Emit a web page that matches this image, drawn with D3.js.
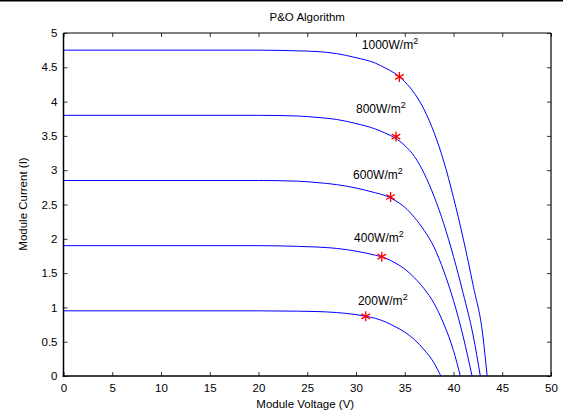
<!DOCTYPE html>
<html>
<head>
<meta charset="utf-8">
<script src="https://cdn.jsdelivr.net/npm/d3@7"></script>
<style>
  html, body { margin: 0; padding: 0; background: #fff; }
  svg { display: block; font-family: "Liberation Sans", Arial, sans-serif; }
</style>
</head>
<body>
<svg id="chart" width="563" height="414"></svg>
<script>
// ---------- data ----------
const irradianceLabels = ["1000W/m", "800W/m", "600W/m", "400W/m", "200W/m"];

const v1000 = [0, 10, 20, 24, 26, 28, 30, 32, 33, 34, 35, 36, 37, 38, 39, 40, 41, 42, 43, 43.45];
const i1000 = [4.75, 4.75, 4.75, 4.74, 4.73, 4.70, 4.64, 4.56, 4.49, 4.41, 4.29, 4.12, 3.88, 3.55, 3.13, 2.60, 2.00, 1.33, 0.60, 0];

const v800 = [0, 10, 20, 24, 26, 28, 30, 32, 33, 34, 35, 36, 37, 38, 39, 40, 41, 42, 42.75];
const i800 = [3.8, 3.8, 3.8, 3.79, 3.77, 3.74, 3.68, 3.60, 3.54, 3.47, 3.36, 3.20, 2.95, 2.62, 2.22, 1.74, 1.20, 0.60, 0];

const v600 = [0, 10, 20, 24, 26, 28, 30, 32, 33, 34, 35, 36, 37, 38, 39, 40, 41, 41.9];
const i600 = [2.85, 2.85, 2.85, 2.84, 2.82, 2.79, 2.74, 2.67, 2.63, 2.56, 2.46, 2.31, 2.12, 1.88, 1.53, 1.10, 0.57, 0];

const v400 = [0, 10, 20, 24, 26, 28, 30, 32, 33, 34, 35, 36, 37, 38, 39, 40, 40.7];
const i400 = [1.9, 1.9, 1.9, 1.89, 1.88, 1.86, 1.82, 1.76, 1.72, 1.65, 1.56, 1.43, 1.27, 1.06, 0.76, 0.37, 0];

const v200 = [0, 10, 20, 24, 26, 28, 30, 31, 32, 33, 34, 35, 36, 37, 38, 38.7];
const i200 = [0.95, 0.95, 0.95, 0.945, 0.94, 0.925, 0.895, 0.87, 0.84, 0.79, 0.72, 0.64, 0.53, 0.38, 0.19, 0];

// maximum power points found by P&O
const mppV = [34.45, 34.1, 33.55, 32.65, 31.0];
const mppI = [4.36, 3.49, 2.61, 1.74, 0.87];

// label anchor positions (data coords)
const labelV = [30.6, 30.0, 29.7, 29.8, 30.2];
const labelI = [4.76, 3.83, 2.87, 1.96, 1.03];

const xTicks = [0, 5, 10, 15, 20, 25, 30, 35, 40, 45, 50];
const yTicks = [0, 0.5, 1, 1.5, 2, 2.5, 3, 3.5, 4, 4.5, 5];

// ---------- layout ----------
const svg = d3.select("#chart");
const L = 63.5, R = 551, T = 33, B = 376;
const x = d3.scaleLinear().domain([0, 50]).range([L, R]);
const y = d3.scaleLinear().domain([0, 5]).range([B, T]);

// top border of the figure
svg.append("line").attr("x1", 0).attr("x2", 563).attr("y1", 0.75).attr("y2", 0.75)
  .attr("stroke", "#000").attr("stroke-width", 1.5);

// axes with inward ticks
const fmt = d => String(d);
const gx = svg.append("g").attr("transform", `translate(0,${B})`)
  .call(d3.axisBottom(x).tickValues(xTicks).tickSize(-4).tickPadding(8).tickFormat(fmt));
const gxt = svg.append("g").attr("transform", `translate(0,${T})`)
  .call(d3.axisTop(x).tickValues(xTicks).tickSize(-4).tickFormat(""));
const gy = svg.append("g").attr("transform", `translate(${L},0)`)
  .call(d3.axisLeft(y).tickValues(yTicks).tickSize(-4).tickPadding(6).tickFormat(fmt));
const gyr = svg.append("g").attr("transform", `translate(${R},0)`)
  .call(d3.axisRight(y).tickValues(yTicks).tickSize(-4).tickFormat(""));

[gx, gxt, gy, gyr].forEach(g => {
  g.select(".domain").remove();
  g.selectAll(".tick line").attr("stroke", "#000").attr("stroke-width", 0.8);
  g.selectAll(".tick text").attr("fill", "#000").attr("font-size", 11.5)
    .attr("font-family", "Liberation Sans, Arial, sans-serif");
});

// box
svg.append("line").attr("x1", L).attr("x2", L).attr("y1", T).attr("y2", B + 1)
  .attr("stroke", "#000").attr("stroke-width", 1.5);
svg.append("line").attr("x1", L - 0.75).attr("x2", R + 0.5).attr("y1", B).attr("y2", B)
  .attr("stroke", "#000").attr("stroke-width", 1.5);
svg.append("line").attr("x1", L).attr("x2", R).attr("y1", T).attr("y2", T)
  .attr("stroke", "#000").attr("stroke-width", 1);
svg.append("line").attr("x1", R).attr("x2", R).attr("y1", T).attr("y2", B)
  .attr("stroke", "#000").attr("stroke-width", 1.2);

// curves
const series = [
  d3.zip(v1000, i1000), d3.zip(v800, i800), d3.zip(v600, i600),
  d3.zip(v400, i400), d3.zip(v200, i200)
];
const line = d3.line().x(d => x(d[0])).y(d => y(d[1])).curve(d3.curveMonotoneX);
svg.append("g").selectAll("path").data(series).join("path")
  .attr("d", line).attr("fill", "none").attr("stroke", "#0000ff").attr("stroke-width", 1);

// MPP markers
const mpp = d3.zip(mppV, mppI);
svg.append("g").selectAll("path").data(mpp).join("path")
  .attr("transform", d => `translate(${x(d[0])},${y(d[1])})`)
  .attr("d", d3.symbol(d3.symbolAsterisk, 70))
  .attr("fill", "none").attr("stroke", "#ff0000").attr("stroke-width", 1.3);

// irradiance labels
const labels = svg.append("g").selectAll("text").data(d3.zip(irradianceLabels, labelV, labelI)).join("text")
  .attr("x", d => x(d[1])).attr("y", d => y(d[2]))
  .attr("font-size", 12).attr("fill", "#000");
labels.append("tspan").text(d => d[0]);
labels.append("tspan").attr("dy", -5).attr("font-size", 9).text("2");

// title & axis labels
svg.append("text").attr("x", (L + R) / 2).attr("y", 21).attr("text-anchor", "middle")
  .attr("font-size", 11.5).text("P&O Algorithm");
svg.append("text").attr("x", (L + R) / 2 - 2).attr("y", 408).attr("text-anchor", "middle")
  .attr("font-size", 11.5).text("Module Voltage (V)");
svg.append("text").attr("transform", `translate(27,204) rotate(-90)`).attr("text-anchor", "middle")
  .attr("font-size", 11.5).text("Module Current (I)");
</script>
</body>
</html>
